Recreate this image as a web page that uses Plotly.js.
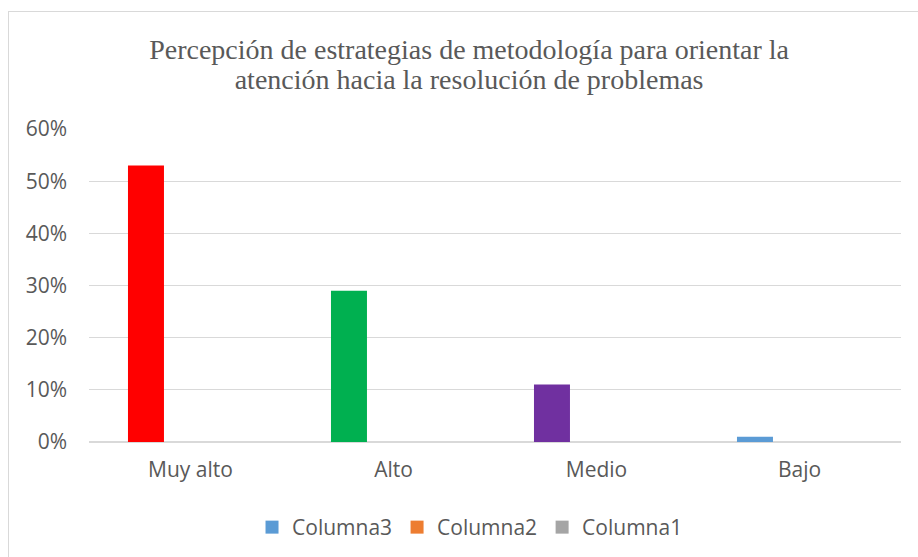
<!DOCTYPE html>
<html>
<head>
<meta charset="utf-8">
<script src="https://cdn.plot.ly/plotly-3.0.1.min.js"></script>
<style>
  html, body { margin: 0; padding: 0; background: #fff; overflow: hidden; }
  #frame { position: absolute; left: 8px; top: 11px; width: 960px; height: 600px;
           border-left: 1.5px solid #D9D9D9; border-top: 1.5px solid #D9D9D9; pointer-events: none; }
  #chart { position: absolute; left: 0; top: 0; width: 918px; height: 557px; }
</style>
</head>
<body>
<div id="chart"></div>
<div id="frame"></div>
<script>
const categories = ['Muy alto', 'Alto', 'Medio', 'Bajo'];
const columna3 = [0.53, 0.29, 0.11, 0.01];
const columna2 = [0, 0, 0, 0];
const columna1 = [0, 0, 0, 0];
const pointColors = ['#FF0000', '#00B050', '#7030A0', '#5B9BD5'];
const yTicks = [0, 0.1, 0.2, 0.3, 0.4, 0.5, 0.6];
const yTickLabels = ['0%', '10%', '20%', '30%', '40%', '50%', '60%'];

const barW = 0.1773;
const traces = [
  { type: 'bar', name: 'Columna3', x: categories, y: columna3,
    marker: { color: pointColors, line: { width: 0 } }, width: barW, offset: -0.308 },
  { type: 'bar', name: 'Columna2', x: categories, y: columna2,
    marker: { color: '#ED7D31', line: { width: 0 } }, width: barW, offset: -0.131 },
  { type: 'bar', name: 'Columna1', x: categories, y: columna1,
    marker: { color: '#A5A5A5', line: { width: 0 } }, width: barW, offset: 0.046 }
];

const layout = {
  width: 918, height: 557,
  margin: { l: 89, r: 17, t: 129, b: 115 },
  paper_bgcolor: '#ffffff', plot_bgcolor: '#ffffff',
  barmode: 'group',
  showlegend: true,
  title: {
    text: 'Percepción de estrategias de metodología para orientar la<br>atención hacia la resolución de problemas',
    font: { family: 'Liberation Serif, Times New Roman, serif', size: 28, color: '#595959' },
    x: 0.511, xref: 'container', xanchor: 'center',
    y: 0.894, yref: 'container', yanchor: 'top'
  },
  xaxis: {
    type: 'category',
    tickfont: { family: 'Open Sans, sans-serif', size: 21, color: '#595959' },
    showgrid: false, showline: false, ticks: '', zeroline: false,
    ticklabelstandoff: 13
  },
  yaxis: {
    range: [0, 0.6],
    tickvals: yTicks, ticktext: yTickLabels,
    tickfont: { family: 'Open Sans, sans-serif', size: 21, color: '#595959' },
    showgrid: true, gridcolor: '#D9D9D9', gridwidth: 1.3,
    zeroline: true, zerolinecolor: '#D9D9D9', zerolinewidth: 1.3,
    showline: false, ticks: '',
    ticklabelstandoff: 21
  },
  legend: {
    orientation: 'h', x: 0.512, xref: 'container', xanchor: 'center',
    y: 0.053, yref: 'container', yanchor: 'middle',
    font: { family: 'Open Sans, sans-serif', size: 21, color: '#595959' },
    traceorder: 'normal'
  }
};

Plotly.newPlot('chart', traces, layout, { displayModeBar: false, staticPlot: true }).then(function () {
  const items = document.querySelectorAll('.legend .traces');
  items.forEach(function (it, i) {
    it.querySelectorAll('.legendpoints path').forEach(function (p) {
      p.setAttribute('d', 'M6.5,6.5H-6.5V-6.5H6.5Z');
      if (i === 0) p.style.fill = '#5B9BD5';
    });
  });
  // tighten title line spacing to match reference
  document.querySelectorAll('.gtitle tspan.line').forEach(function (t, i) {
    if (i > 0) t.setAttribute('dy', '1.07em');
  });
});
</script>
</body>
</html>
